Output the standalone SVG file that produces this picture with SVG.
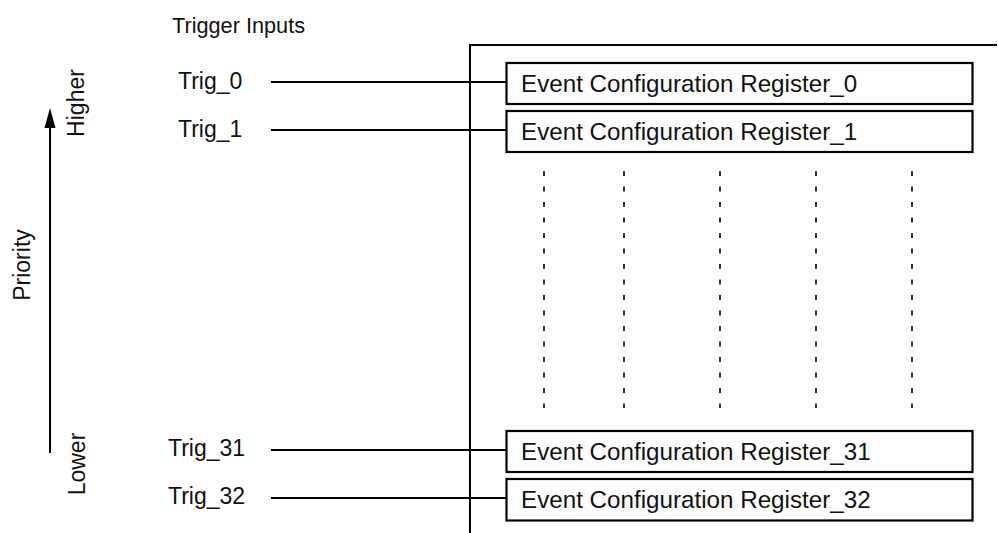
<svg xmlns="http://www.w3.org/2000/svg" width="998" height="533" viewBox="0 0 998 533">
  <style>
    text { font-family: "Liberation Sans", Arial, Helvetica, sans-serif; fill: #111; }
    .lbl { font-size: 23px; }
    .reg { font-size: 24.2px; }
    .ln { stroke: #000; stroke-width: 2; fill: none; }
    .box { stroke: #000; stroke-width: 2.2; fill: #fff; }
    .dot { stroke: #000; stroke-width: 1.6; stroke-dasharray: 5 10.5; fill: none; }
  </style>

  <rect width="998" height="533" fill="#fff"/>

  <text id="title" x="172" y="33" style="font-size:21.7px">Trigger Inputs</text>

  <g id="priority">
    <line class="ln" x1="50" y1="453" x2="50" y2="127"/>
    <path d="M50,108 L44.5,128 L55.5,128 Z" fill="#000"/>
    <text class="lbl" transform="translate(84,103) rotate(-90)" text-anchor="middle">Higher</text>
    <text class="lbl" transform="translate(29.5,265) rotate(-90)" text-anchor="middle">Priority</text>
    <text class="lbl" transform="translate(84.5,464) rotate(-90)" text-anchor="middle">Lower</text>
  </g>

  <g id="frame">
    <polyline class="ln" points="470,533 470,45 997,45"/>
  </g>

  <g id="connectors">
    <line class="ln" x1="271" y1="82" x2="507" y2="82"/>
    <line class="ln" x1="271" y1="130" x2="507" y2="130"/>
    <line class="ln" x1="271" y1="450" x2="507" y2="450"/>
    <line class="ln" x1="271" y1="498" x2="507" y2="498"/>
  </g>

  <g id="trig0"><text class="lbl" x="178" y="89">Trig_0</text></g>
  <g id="trig1"><text class="lbl" x="178" y="137">Trig_1</text></g>
  <g id="trig31"><text class="lbl" x="168" y="456">Trig_31</text></g>
  <g id="trig32"><text class="lbl" x="168" y="504">Trig_32</text></g>

  <g id="reg0">
    <rect class="box" x="506.5" y="63" width="466" height="41"/>
    <text class="reg" x="521" y="92">Event Configuration Register_0</text>
  </g>
  <g id="reg1">
    <rect class="box" x="506.5" y="111" width="466" height="41"/>
    <text class="reg" x="521" y="140">Event Configuration Register_1</text>
  </g>
  <g id="reg31">
    <rect class="box" x="506.5" y="431" width="466" height="41"/>
    <text class="reg" x="521" y="460">Event Configuration Register_31</text>
  </g>
  <g id="reg32">
    <rect class="box" x="506.5" y="479" width="466" height="41.5"/>
    <text class="reg" x="521" y="508">Event Configuration Register_32</text>
  </g>

  <g id="ellipsis">
    <line class="dot" x1="544" y1="171" x2="544" y2="408"/>
    <line class="dot" x1="624" y1="171" x2="624" y2="408"/>
    <line class="dot" x1="720" y1="171" x2="720" y2="408"/>
    <line class="dot" x1="816" y1="171" x2="816" y2="408"/>
    <line class="dot" x1="912" y1="171" x2="912" y2="408"/>
  </g>
</svg>
